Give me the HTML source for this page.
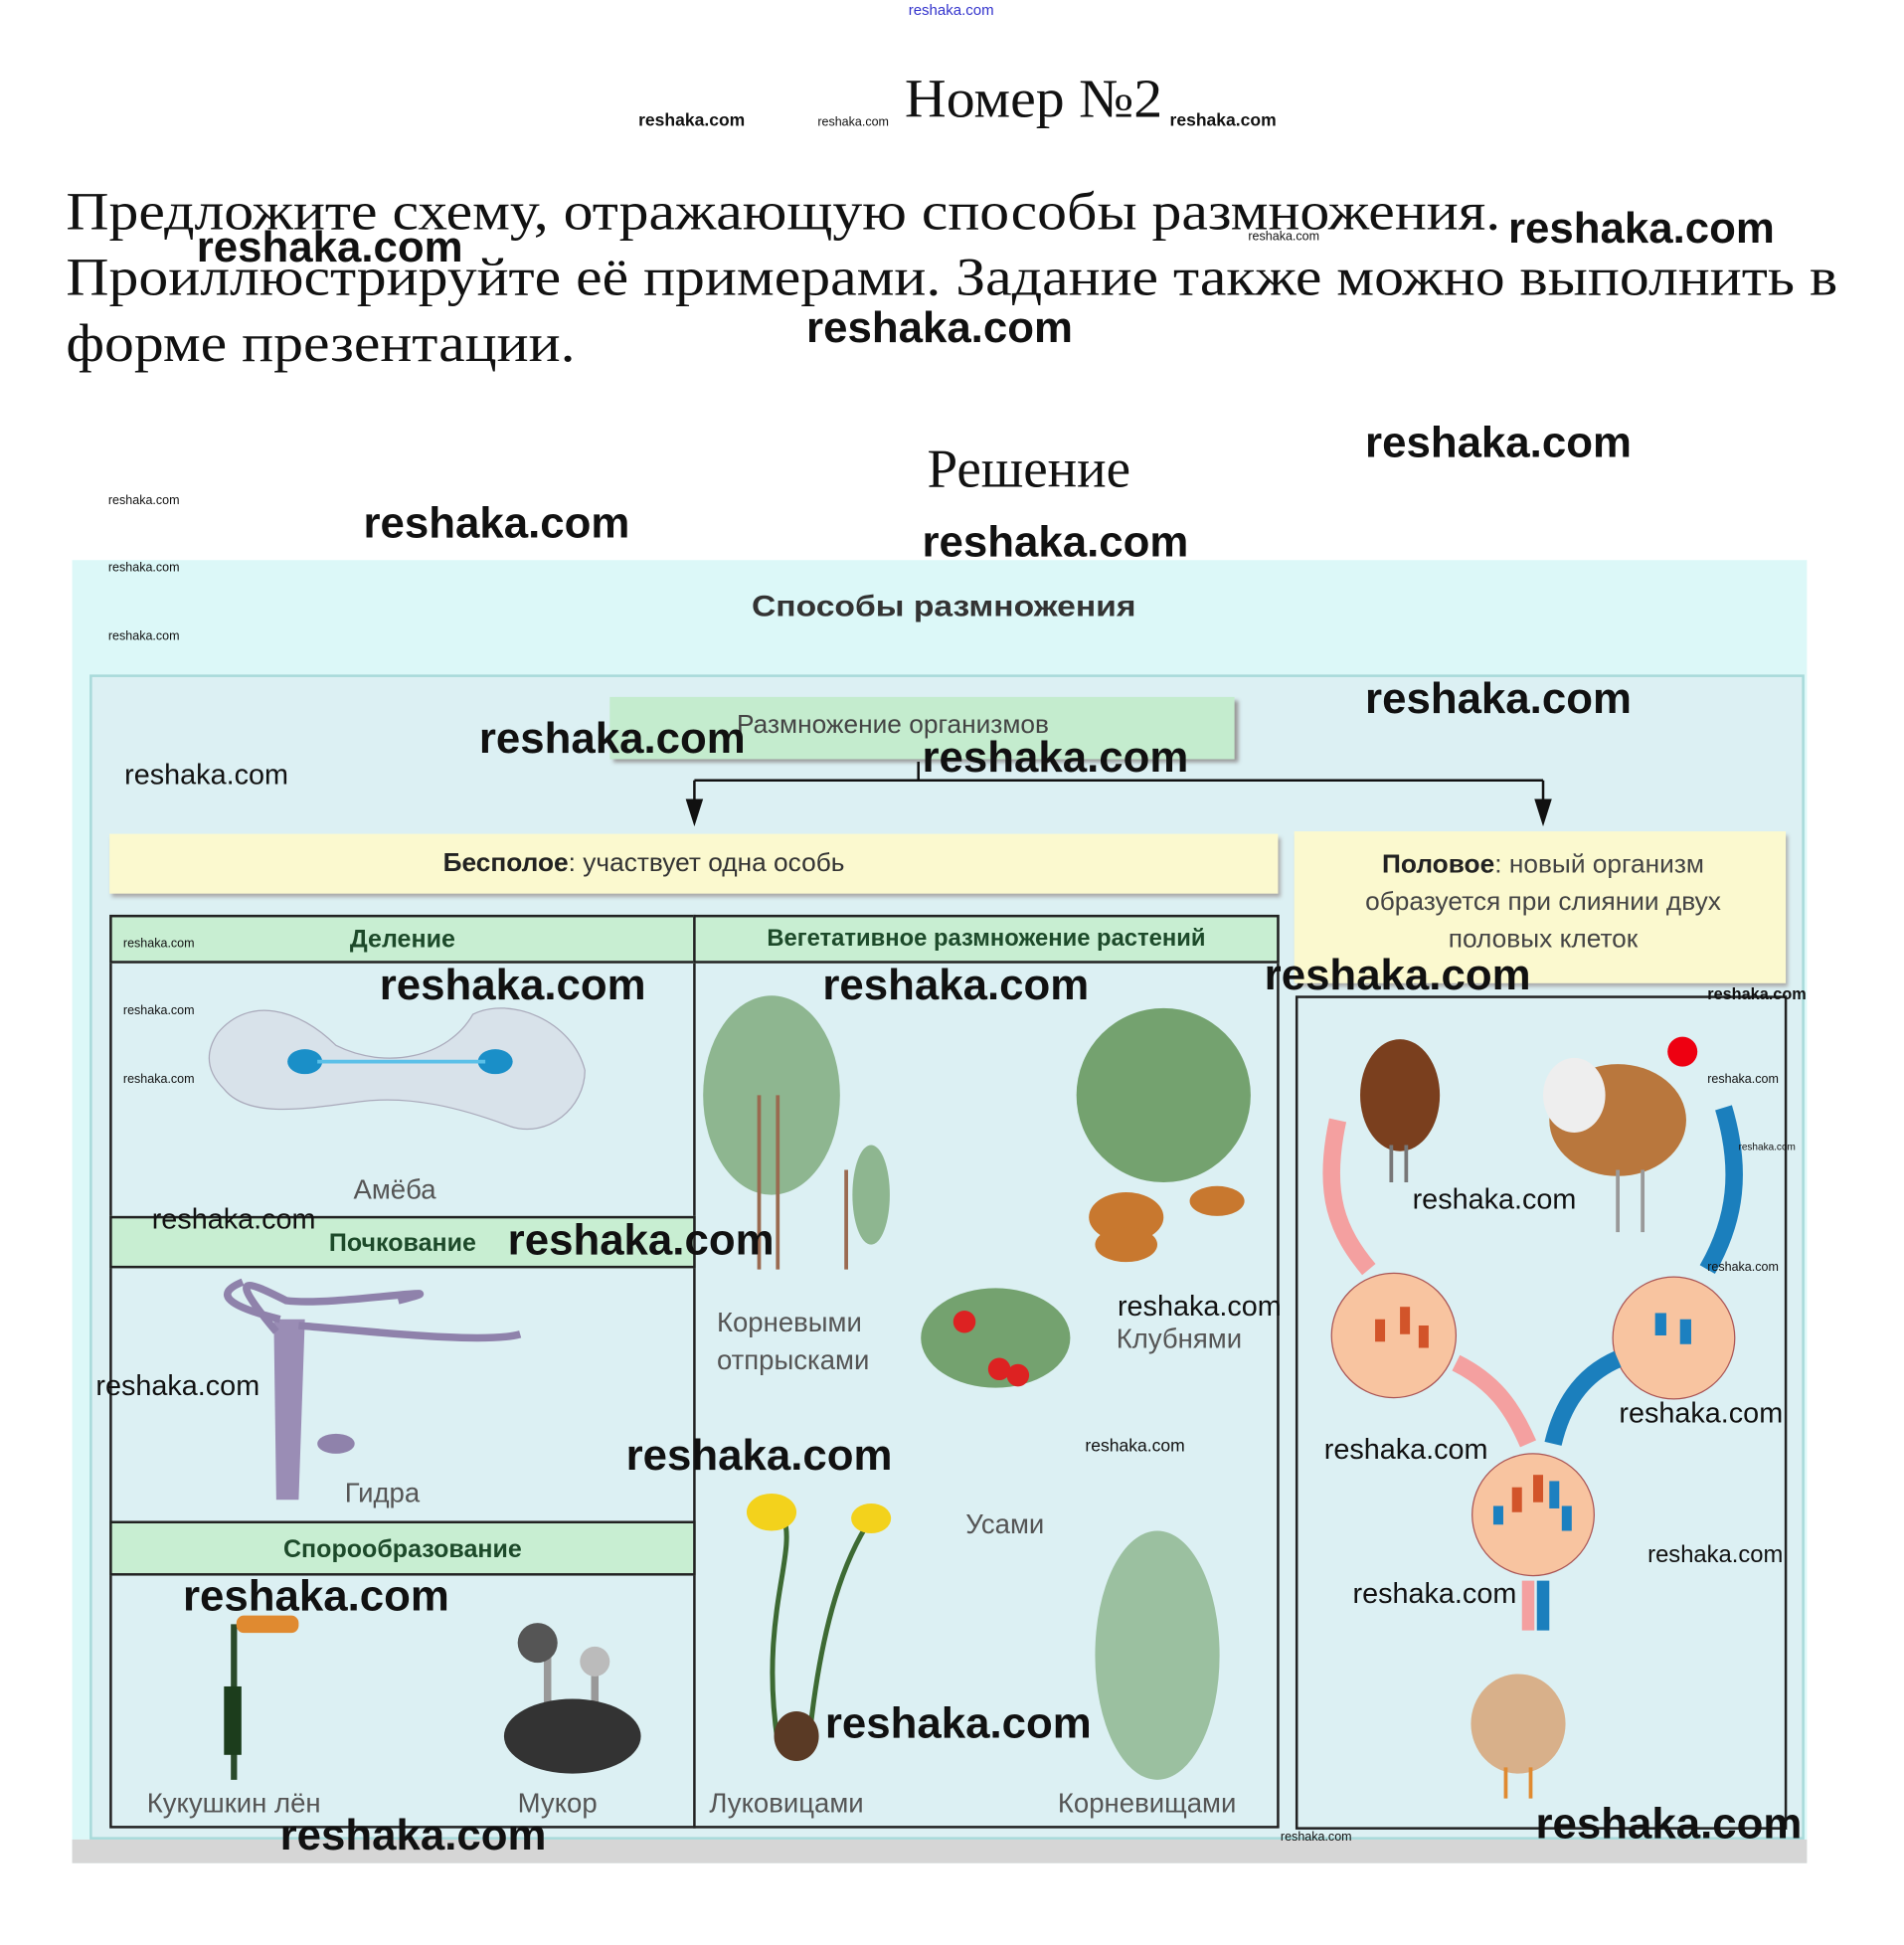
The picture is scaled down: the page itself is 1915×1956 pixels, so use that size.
<!DOCTYPE html>
<html><head><meta charset="utf-8"><style>
html,body{margin:0;padding:0;background:#fff;width:1915px;height:1956px;overflow:hidden}
#w{position:absolute;left:0;top:0;width:1530px;height:1563px;transform:scale(1.25163);transform-origin:0 0}
.a{position:absolute;white-space:nowrap;line-height:1}
.t{font-family:"Liberation Serif",serif;color:#111}
.wm{font-family:"Liberation Sans",sans-serif;font-weight:bold;color:#111}
.s{font-family:"Liberation Sans",sans-serif;color:#555}
.box{position:absolute;box-sizing:border-box}
.hd{position:absolute;background:#c8eed2;border:2px solid #222;box-sizing:border-box;font-family:"Liberation Sans",sans-serif;font-weight:bold;color:#1d4a2a;font-size:20px;text-align:center}
</style></head><body><div id="w">
<div class="a" style="left:730px;top:2px;font-family:'Liberation Sans',sans-serif;font-size:12px;color:#33c">reshaka.com</div>
<div class="a t" style="left:727px;top:58px;font-size:44px;transform:scaleX(1.05);transform-origin:0 0">Номер №2</div>
<div class="a t" style="left:53px;top:144px;font-size:43px;line-height:53px;transform:scaleX(1.11);transform-origin:0 0">Предложите схему, отражающую способы размножения.<br>Проиллюстрируйте её примерами. Задание также можно выполнить в<br>форме презентации.</div>
<div class="a t" style="left:745px;top:355px;font-size:44px">Решение</div>

<div class="box" style="left:58px;top:450px;width:1394px;height:1047px;background:#dcf8f8"></div>
<div class="box" style="left:58px;top:1478px;width:1394px;height:19px;background:#d6d6d6"></div>
<div class="a" style="left:604px;top:476px;font-family:'Liberation Sans',sans-serif;font-weight:bold;font-size:24px;color:#333;transform:scaleX(1.12);transform-origin:0 0">Способы размножения</div>
<div class="box" style="left:72px;top:542px;width:1378px;height:936px;background:#dcf0f3;border:2px solid #a8dada"></div>
<div class="box" style="left:490px;top:560px;width:502px;height:50px;background:#c4ecce;box-shadow:3px 3px 3px #999"></div>
<div class="a s" style="left:592px;top:572px;font-size:21px;color:#444">Размножение организмов</div>
<svg class="a" style="left:0;top:0" width="1530" height="1563">
<path d="M738 612V627M558 627H1240M558 627V648M1240 627V648" stroke="#111" stroke-width="2" fill="none"/>
<path d="M551 642L558 664L565 642Z M1233 642L1240 664L1247 642Z" fill="#111"/>
</svg>
<div class="box" style="left:88px;top:670px;width:939px;height:48px;background:#fbf9cf;box-shadow:2px 3px 3px #aaa"></div>
<div class="a s" style="left:356px;top:683px;font-size:21px;color:#333"><b style="color:#222">Бесполое</b>: участвует одна особь</div>
<div class="box" style="left:1040px;top:668px;width:395px;height:122px;background:#fbf9cf;box-shadow:2px 3px 3px #aaa"></div>
<div class="a s" style="left:1060px;top:680px;width:360px;font-size:21px;color:#444;text-align:center;line-height:30px;white-space:normal"><b style="color:#222">Половое</b>: новый организм образуется при слиянии двух половых клеток</div>

<div class="box" style="left:88px;top:735px;width:940px;height:734px;border:2px solid #222"></div>
<div class="box" style="left:557px;top:735px;width:2px;height:734px;background:#222"></div>
<div class="hd" style="left:88px;top:735px;width:471px;height:39px;line-height:36px">Деление</div>
<div class="hd" style="left:557px;top:735px;width:471px;height:39px;line-height:36px;font-size:19px">Вегетативное размножение растений</div>
<div class="hd" style="left:88px;top:977px;width:471px;height:42px;line-height:40px">Почкование</div>
<div class="hd" style="left:88px;top:1222px;width:471px;height:44px;line-height:42px">Спорообразование</div>
<div class="box" style="left:1041px;top:800px;width:395px;height:670px;border:2px solid #222"></div>

<svg class="a" style="left:0;top:0" width="1530" height="1563">
<path d="M175 830 C200 800 240 810 270 840 C310 860 360 850 380 815 C410 800 460 820 470 860 C470 890 440 915 410 905 C370 890 330 880 290 885 C250 890 200 900 180 875 C165 860 165 845 175 830Z" fill="#d8e2ea" stroke="#aab" />
<ellipse cx="245" cy="853" rx="14" ry="10" fill="#1a8fc8"/><ellipse cx="398" cy="853" rx="14" ry="10" fill="#1a8fc8"/>
<path d="M255 853H390" stroke="#5bc0e8" stroke-width="3"/>
<path d="M220 1060 L222 1205 L240 1205 L245 1060Z" fill="#9a8db5"/>
<path d="M222 1070 C180 1020 200 1030 230 1045 C270 1050 380 1030 320 1045 M240 1065 C300 1070 390 1080 418 1072 M225 1060 C185 1050 170 1040 195 1030" stroke="#8f82ab" stroke-width="6" fill="none"/>
<ellipse cx="270" cy="1160" rx="15" ry="8" fill="#8f82ab"/>
<path d="M188 1305 V1430" stroke="#2a4a2a" stroke-width="5"/><rect x="180" y="1355" width="14" height="55" fill="#1c3d1c"/><rect x="190" y="1298" width="50" height="14" rx="6" fill="#e08a30"/>
<path d="M440 1330 V1400 M478 1340 V1390" stroke="#999" stroke-width="6"/>
<circle cx="432" cy="1320" r="16" fill="#555"/><circle cx="478" cy="1335" r="12" fill="#bbb"/>
<ellipse cx="460" cy="1395" rx="55" ry="30" fill="#333"/>
<g fill="#5a8f4e"><ellipse cx="620" cy="880" rx="55" ry="80" opacity=".6"/><ellipse cx="700" cy="960" rx="15" ry="40" opacity=".6"/>
<ellipse cx="935" cy="880" rx="70" ry="70" opacity=".8"/><ellipse cx="800" cy="1075" rx="60" ry="40" opacity=".8"/>
<ellipse cx="930" cy="1330" rx="50" ry="100" opacity=".5"/><path d="M625 1400 C610 1300 640 1250 630 1220 M650 1400 C660 1300 680 1250 700 1220" stroke="#3d6a33" stroke-width="4" fill="none"/></g>
<path d="M610 880 V1020 M625 880 V1020 M680 940 V1020" stroke="#9a6a50" stroke-width="3"/>
<ellipse cx="905" cy="978" rx="30" ry="20" fill="#c8782f"/><ellipse cx="905" cy="1000" rx="25" ry="14" fill="#c8782f"/><ellipse cx="978" cy="965" rx="22" ry="12" fill="#c8782f"/>
<circle cx="803" cy="1100" r="9" fill="#d22"/><circle cx="818" cy="1105" r="9" fill="#d22"/><circle cx="775" cy="1062" r="9" fill="#d22"/>
<ellipse cx="620" cy="1215" rx="20" ry="15" fill="#f3d21c"/><ellipse cx="700" cy="1220" rx="16" ry="12" fill="#f3d21c"/>
<ellipse cx="640" cy="1395" rx="18" ry="20" fill="#5a3a25"/>
<ellipse cx="1125" cy="880" rx="32" ry="45" fill="#7a3f1e"/><path d="M1118 920 V950 M1130 920 V950" stroke="#777" stroke-width="3"/>
<ellipse cx="1300" cy="900" rx="55" ry="45" fill="#b9773d"/><ellipse cx="1265" cy="880" rx="25" ry="30" fill="#eee"/><circle cx="1352" cy="845" r="12" fill="#e01"/>
<path d="M1300 940 V990 M1320 940 V990" stroke="#999" stroke-width="3"/>
<path d="M1075 900 C1062 960 1075 990 1100 1020" stroke="#f4a0a0" stroke-width="14" fill="none"/>
<path d="M1385 890 C1400 940 1395 980 1372 1020" stroke="#1b7fbd" stroke-width="14" fill="none"/>
<circle cx="1120" cy="1073" r="50" fill="#f8c4a0" stroke="#a55" stroke-width="1"/>
<circle cx="1345" cy="1075" r="49" fill="#f8c4a0" stroke="#a55" stroke-width="1"/>
<circle cx="1232" cy="1217" r="49" fill="#f8c4a0" stroke="#a55" stroke-width="1"/>
<path d="M1170 1095 C1200 1110 1215 1130 1228 1160" stroke="#f4a0a0" stroke-width="14" fill="none"/>
<path d="M1300 1092 C1270 1105 1255 1130 1248 1160" stroke="#1b7fbd" stroke-width="14" fill="none"/>
<path d="M1228 1270 V1310" stroke="#f4a0a0" stroke-width="10"/><path d="M1240 1270 V1310" stroke="#1b7fbd" stroke-width="10"/>
<g fill="#d2542a"><rect x="1105" y="1060" width="8" height="18"/><rect x="1125" y="1050" width="8" height="22"/><rect x="1140" y="1065" width="8" height="18"/><rect x="1215" y="1195" width="8" height="20"/><rect x="1232" y="1185" width="8" height="22"/></g>
<g fill="#1c80c0"><rect x="1330" y="1055" width="9" height="18"/><rect x="1350" y="1060" width="9" height="20"/><rect x="1245" y="1190" width="8" height="22"/><rect x="1200" y="1210" width="8" height="15"/><rect x="1255" y="1210" width="8" height="20"/></g>
<ellipse cx="1220" cy="1385" rx="38" ry="40" fill="#d8b08a"/><path d="M1210 1420 V1445 M1230 1420 V1445" stroke="#e08a30" stroke-width="3"/>
</svg>
<div class="a s" style="left:284px;top:945px;font-size:22px">Амёба</div>
<div class="a s" style="left:277px;top:1189px;font-size:22px">Гидра</div>
<div class="a s" style="left:118px;top:1438px;font-size:22px">Кукушкин лён</div>
<div class="a s" style="left:416px;top:1438px;font-size:22px">Мукор</div>
<div class="a s" style="left:576px;top:1048px;font-size:22px;line-height:30px">Корневыми<br>отпрысками</div>
<div class="a s" style="left:897px;top:1065px;font-size:22px">Клубнями</div>
<div class="a s" style="left:776px;top:1214px;font-size:22px">Усами</div>
<div class="a s" style="left:570px;top:1438px;font-size:22px">Луковицами</div>
<div class="a s" style="left:850px;top:1438px;font-size:22px">Корневищами</div>

<div class="a wm" style="left:513px;top:89px;font-size:14px">reshaka.com</div>
<div class="a wm" style="left:657px;top:94px;font-size:10px;font-weight:normal">reshaka.com</div>
<div class="a wm" style="left:940px;top:89px;font-size:14px">reshaka.com</div>
<div class="a wm" style="left:158px;top:181px;font-size:35px">reshaka.com</div>
<div class="a wm" style="left:1212px;top:166px;font-size:35px">reshaka.com</div>
<div class="a wm" style="left:1003px;top:186px;font-size:10px;font-weight:normal">reshaka.com</div>
<div class="a wm" style="left:648px;top:246px;font-size:35px">reshaka.com</div>
<div class="a wm" style="left:1097px;top:338px;font-size:35px">reshaka.com</div>
<div class="a wm" style="left:87px;top:398px;font-size:10px;font-weight:normal">reshaka.com</div>
<div class="a wm" style="left:292px;top:403px;font-size:35px">reshaka.com</div>
<div class="a wm" style="left:741px;top:418px;font-size:35px">reshaka.com</div>
<div class="a wm" style="left:87px;top:452px;font-size:10px;font-weight:normal">reshaka.com</div>
<div class="a wm" style="left:87px;top:507px;font-size:10px;font-weight:normal">reshaka.com</div>
<div class="a wm" style="left:1097px;top:544px;font-size:35px">reshaka.com</div>
<div class="a wm" style="left:385px;top:576px;font-size:35px">reshaka.com</div>
<div class="a wm" style="left:741px;top:591px;font-size:35px">reshaka.com</div>
<div class="a wm" style="left:100px;top:611px;font-size:23px;font-weight:normal">reshaka.com</div>
<div class="a wm" style="left:99px;top:754px;font-size:10px;font-weight:normal">reshaka.com</div>
<div class="a wm" style="left:305px;top:774px;font-size:35px">reshaka.com</div>
<div class="a wm" style="left:661px;top:774px;font-size:35px">reshaka.com</div>
<div class="a wm" style="left:1016px;top:766px;font-size:35px">reshaka.com</div>
<div class="a wm" style="left:1372px;top:792px;font-size:13px">reshaka.com</div>
<div class="a wm" style="left:99px;top:808px;font-size:10px;font-weight:normal">reshaka.com</div>
<div class="a wm" style="left:99px;top:863px;font-size:10px;font-weight:normal">reshaka.com</div>
<div class="a wm" style="left:1372px;top:863px;font-size:10px;font-weight:normal">reshaka.com</div>
<div class="a wm" style="left:1397px;top:918px;font-size:8px;font-weight:normal">reshaka.com</div>
<div class="a wm" style="left:1135px;top:952px;font-size:23px;font-weight:normal">reshaka.com</div>
<div class="a wm" style="left:122px;top:968px;font-size:23px;font-weight:normal">reshaka.com</div>
<div class="a wm" style="left:408px;top:979px;font-size:35px">reshaka.com</div>
<div class="a wm" style="left:1372px;top:1014px;font-size:10px;font-weight:normal">reshaka.com</div>
<div class="a wm" style="left:898px;top:1038px;font-size:23px;font-weight:normal">reshaka.com</div>
<div class="a wm" style="left:77px;top:1102px;font-size:23px;font-weight:normal">reshaka.com</div>
<div class="a wm" style="left:1301px;top:1124px;font-size:23px;font-weight:normal">reshaka.com</div>
<div class="a wm" style="left:872px;top:1154px;font-size:14px;font-weight:normal">reshaka.com</div>
<div class="a wm" style="left:503px;top:1152px;font-size:35px">reshaka.com</div>
<div class="a wm" style="left:1064px;top:1153px;font-size:23px;font-weight:normal">reshaka.com</div>
<div class="a wm" style="left:1324px;top:1240px;font-size:19px;font-weight:normal">reshaka.com</div>
<div class="a wm" style="left:147px;top:1265px;font-size:35px">reshaka.com</div>
<div class="a wm" style="left:1087px;top:1269px;font-size:23px;font-weight:normal">reshaka.com</div>
<div class="a wm" style="left:663px;top:1367px;font-size:35px">reshaka.com</div>
<div class="a wm" style="left:1234px;top:1448px;font-size:35px">reshaka.com</div>
<div class="a wm" style="left:225px;top:1457px;font-size:35px">reshaka.com</div>
<div class="a wm" style="left:1029px;top:1472px;font-size:10px;font-weight:normal">reshaka.com</div>
</div></body></html>
